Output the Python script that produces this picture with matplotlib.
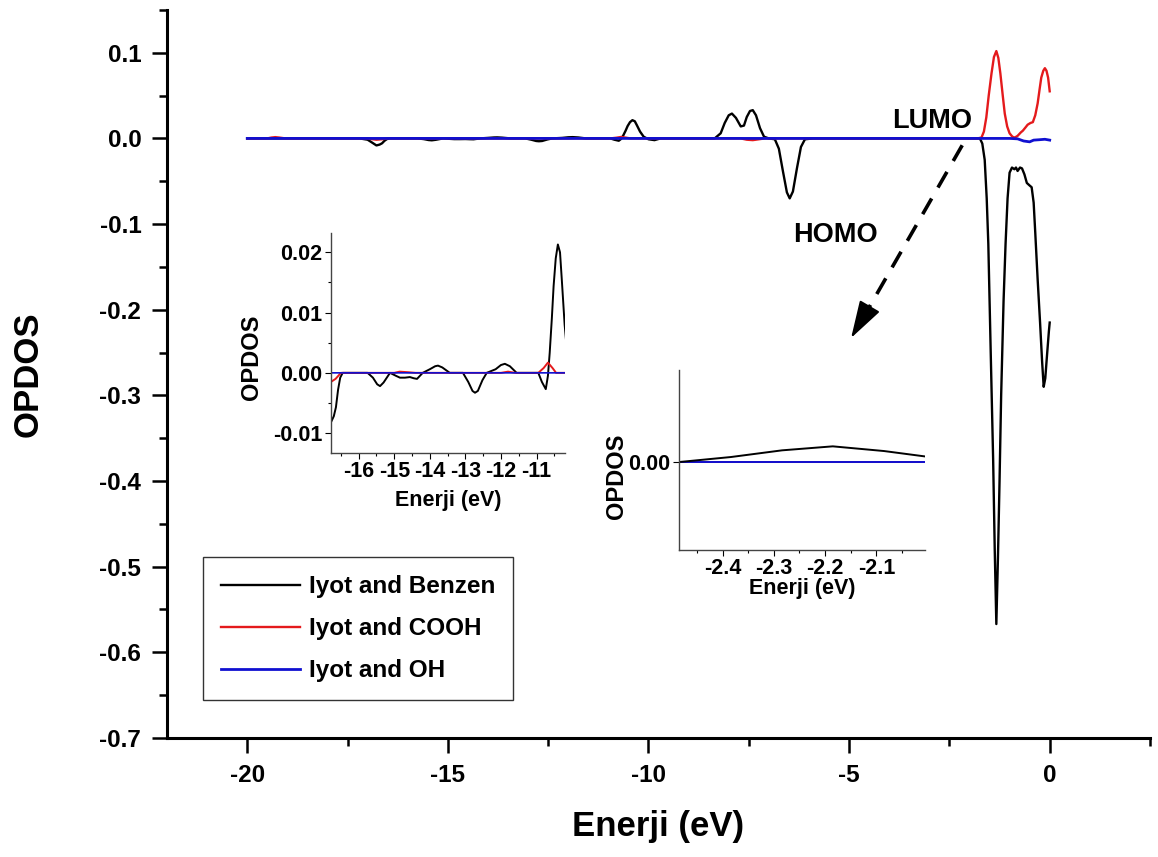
import matplotlib
matplotlib.use("Agg")
import matplotlib.pyplot as plt
from matplotlib.ticker import MultipleLocator, FormatStrFormatter

plt.rcParams['font.family'] = ['Liberation Sans', 'DejaVu Sans']
plt.rcParams['font.weight'] = 'bold'
plt.rcParams['axes.unicode_minus'] = False

# Iyot and Benzen (black)
benzen_e = [-20.0, -17.2, -17.0, -16.9, -16.78, -16.7, -16.64, -16.58, -16.52, -16.45,
            -15.75, -15.6, -15.48, -15.4, -15.3, -15.12, -14.95, -14.84, -14.7, -14.56,
            -14.45, -14.36, -14.2, -14.0, -13.85, -13.77, -13.65, -13.44, -13.07, -12.92,
            -12.8, -12.73, -12.65, -12.52, -12.4, -12.15, -12.0, -11.89, -11.75, -11.56,
            -10.95, -10.85, -10.74, -10.68, -10.63, -10.57, -10.52, -10.46, -10.4, -10.34,
            -10.29, -10.21, -10.12, -10.0, -9.85, -9.7, -8.35, -8.2, -8.1, -8.0,
            -7.92, -7.82, -7.7, -7.62, -7.55, -7.47, -7.4, -7.32, -7.22, -7.12,
            -7.0, -6.85, -6.75, -6.65, -6.55, -6.48, -6.4, -6.3, -6.2, -6.1,
            -5.9, -3.0, -2.485, -2.384, -2.284, -2.185, -2.085, -1.996, -1.9, -1.74,
            -1.68, -1.62, -1.57, -1.53, -1.47, -1.41, -1.37, -1.33, -1.29, -1.25,
            -1.21, -1.15, -1.1, -1.05, -1.0, -0.94, -0.88, -0.84, -0.8, -0.74,
            -0.69, -0.63, -0.57, -0.5, -0.45, -0.4, -0.36, -0.3, -0.24, -0.19,
            -0.15, -0.11, -0.07, -0.02, 0.0]
benzen_v = [0.0, 0.0, -0.0015, -0.0045, -0.0082, -0.0072, -0.0057, -0.0028, -0.0008, 0.0,
            0.0, -0.0008, -0.0019, -0.0022, -0.0016, 0.0, -0.0005, -0.0008, -0.0008, -0.0007,
            -0.0009, -0.001, 0.0, 0.0006, 0.0011, 0.0012, 0.0009, 0.0, 0.0, -0.0015,
            -0.003, -0.0033, -0.003, -0.0012, 0.0, 0.0006, 0.0013, 0.0015, 0.0011, 0.0,
            0.0, -0.0015, -0.0027, -0.0005, 0.0033, 0.009, 0.0144, 0.019, 0.0213, 0.02,
            0.0155, 0.008, 0.002, -0.001, -0.002, 0.0, 0.0, 0.006, 0.018, 0.027,
            0.029, 0.024, 0.014, 0.015, 0.025, 0.032, 0.033, 0.027, 0.012, 0.002,
            0.0, -0.001, -0.012, -0.038, -0.063, -0.070, -0.062, -0.035, -0.01, -0.001,
            0.0, 0.0, 0.0, 0.00005, 0.000117, 0.000157, 0.00011, 0.00005, 0.00001, 0.0,
            -0.006, -0.025, -0.07, -0.123, -0.25, -0.374, -0.48, -0.567, -0.49, -0.40,
            -0.30, -0.19, -0.123, -0.07, -0.04, -0.034, -0.036, -0.034, -0.038, -0.034,
            -0.035, -0.042, -0.052, -0.055, -0.057, -0.075, -0.11, -0.165, -0.215, -0.26,
            -0.29, -0.28, -0.255, -0.225, -0.215]

# Iyot and COOH (red)
cooh_e = [-20.0, -19.5, -19.4, -19.3, -19.2, -19.05, -17.0, -16.9, -16.78, -16.65,
          -16.5, -15.0, -14.85, -14.6, -14.4, -12.0, -11.8, -11.6, -10.95, -10.8,
          -10.68, -10.55, -10.45, -7.7, -7.55, -7.4, -7.25, -7.1, -1.8, -1.7,
          -1.64, -1.58, -1.52, -1.45, -1.39, -1.33, -1.28, -1.23, -1.17, -1.12,
          -1.06, -1.0, -0.93, -0.87, -0.8, -0.72, -0.67, -0.6, -0.55, -0.48,
          -0.42, -0.36, -0.3, -0.25, -0.21, -0.16, -0.12, -0.08, -0.04, 0.0]
cooh_v = [0.0, 0.0, 0.001, 0.0015, 0.001, 0.0, 0.0, -0.0008, -0.0015, -0.001,
          0.0, 0.0, 0.0002, 0.0001, 0.0, 0.0, 0.0002, 0.0, 0.0, 0.0008,
          0.0017, 0.0008, 0.0, 0.0, -0.0015, -0.002, -0.001, 0.0, 0.0, 0.001,
          0.008, 0.0245, 0.05, 0.076, 0.095, 0.102, 0.094, 0.076, 0.05, 0.029,
          0.014, 0.006, 0.002, 0.001, 0.003, 0.007, 0.009, 0.013, 0.016, 0.018,
          0.019, 0.027, 0.041, 0.058, 0.071, 0.079, 0.082, 0.079, 0.071, 0.055]

# Iyot and OH (blue)
oh_e = [-20.0, -1.0, -0.8, -0.65, -0.5, -0.4, -0.25, -0.12, 0.0]
oh_v = [0.0, 0.0, -0.0005, -0.003, -0.004, -0.002, -0.0015, -0.001, -0.002]

labels = ["Iyot and Benzen", "Iyot and COOH", "Iyot and OH"]
colors = ["black", "#e41a1c", "#1010d0"]

fig = plt.figure(figsize=(11.58, 8.57), dpi=100)
ax = fig.add_axes([0.1442, 0.1389, 0.8489, 0.8495])

ax.plot(benzen_e, benzen_v, color=colors[0], lw=1.7, label=labels[0])
ax.plot(cooh_e, cooh_v, color=colors[1], lw=1.7, label=labels[1])
ax.plot(oh_e, oh_v, color=colors[2], lw=2.0, label=labels[2])

ax.set_xlim(-22.0, 2.5)
ax.set_ylim(-0.7, 0.15)
ax.xaxis.set_major_locator(MultipleLocator(5))
ax.xaxis.set_minor_locator(MultipleLocator(2.5))
ax.yaxis.set_major_locator(MultipleLocator(0.1))
ax.yaxis.set_minor_locator(MultipleLocator(0.05))
ax.yaxis.set_major_formatter(FormatStrFormatter('%.1f'))
ax.spines['top'].set_visible(False)
ax.spines['right'].set_visible(False)
for s in ['left', 'bottom']:
    ax.spines[s].set_linewidth(2.2)
ax.tick_params(which='major', direction='out', length=10.5, width=1.8, labelsize=17.5, pad=8)
ax.tick_params(which='minor', direction='out', length=6, width=1.8)
ax.set_xlabel("Enerji (eV)", fontsize=25, fontweight='bold')
ax.set_ylabel("OPDOS", fontsize=25, fontweight='bold')
ax.xaxis.set_label_coords(0.5, -0.099)
ax.yaxis.set_label_coords(-0.124, 0.5)

ax.text(-6.4, -0.121, "HOMO", fontsize=19.5, fontweight='bold', ha='left', va='baseline')
ax.text(-3.93, 0.0117, "LUMO", fontsize=19.5, fontweight='bold', ha='left', va='baseline')
# dashed arrow from LUMO down to the zoomed inset
ax.plot([-2.18, -4.62], [-0.008, -0.207], color='black', lw=2.6,
        linestyle=(0, (5, 3.5)), solid_capstyle='butt')
ax.annotate('', xy=(-4.95, -0.233), xytext=(-4.6, -0.205),
            arrowprops=dict(arrowstyle='-|>,head_length=1.3,head_width=0.4',
                            lw=1.5, color='black', mutation_scale=18,
                            shrinkA=0, shrinkB=0))

leg = ax.legend(loc='upper left', bbox_to_anchor=(0.1753, 0.3501),
                bbox_transform=fig.transFigure, fontsize=17.5, frameon=True,
                fancybox=False, edgecolor='black', handlelength=3.25,
                handletextpad=0.35, labelspacing=0.78, borderpad=0.75, borderaxespad=0)
leg.get_frame().set_linewidth(1.0)


def style_inset(a):
    a.spines['top'].set_visible(False)
    a.spines['right'].set_visible(False)
    for s in ['left', 'bottom']:
        a.spines[s].set_linewidth(1.0)
        a.spines[s].set_color('#444444')
    a.tick_params(which='major', direction='out', length=4, width=0.8, labelsize=15.5, pad=2)
    a.tick_params(which='minor', direction='out', length=2.5, width=0.8)


# inset 1: deep levels
ax1 = fig.add_axes([0.2858, 0.4714, 0.2021, 0.2567])
ax1.plot(benzen_e, benzen_v, color=colors[0], lw=1.4)
ax1.plot(cooh_e, cooh_v, color=colors[1], lw=1.4)
ax1.plot(oh_e, oh_v, color=colors[2], lw=1.2)
ax1.set_xlim(-16.78, -10.2)
ax1.set_ylim(-0.0133, 0.0232)
ax1.xaxis.set_major_locator(MultipleLocator(1))
ax1.xaxis.set_minor_locator(MultipleLocator(0.5))
ax1.yaxis.set_major_locator(MultipleLocator(0.01))
ax1.yaxis.set_minor_locator(MultipleLocator(0.005))
ax1.yaxis.set_major_formatter(FormatStrFormatter('%.2f'))
style_inset(ax1)
ax1.set_xlabel("Enerji (eV)", fontsize=15.5, fontweight='bold')
ax1.set_ylabel("OPDOS", fontsize=17, fontweight='bold')
ax1.xaxis.set_label_coords(0.5, -0.168)
ax1.yaxis.set_label_coords(-0.29, 0.436)

# inset 2: near LUMO
ax2 = fig.add_axes([0.5864, 0.3582, 0.2124, 0.2100])
ax2.plot(cooh_e, cooh_v, color=colors[1], lw=1.4)
ax2.plot(oh_e, oh_v, color=colors[2], lw=1.4)
ax2.plot(benzen_e, benzen_v, color=colors[0], lw=1.4)
ax2.set_xlim(-2.485, -2.005)
ax2.set_ylim(-0.00088, 0.00092)
ax2.xaxis.set_major_locator(MultipleLocator(0.1))
ax2.xaxis.set_minor_locator(MultipleLocator(0.05))
ax2.yaxis.set_major_locator(MultipleLocator(0.01))
ax2.xaxis.set_major_formatter(FormatStrFormatter('%.1f'))
ax2.yaxis.set_major_formatter(FormatStrFormatter('%.2f'))
style_inset(ax2)
ax2.set_xlabel("Enerji (eV)", fontsize=15.5, fontweight='bold')
ax2.set_ylabel("OPDOS", fontsize=17, fontweight='bold')
ax2.xaxis.set_label_coords(0.5, -0.156)
ax2.yaxis.set_label_coords(-0.207, 0.41)

fig.savefig("out.png", dpi=100)
plt.close()
